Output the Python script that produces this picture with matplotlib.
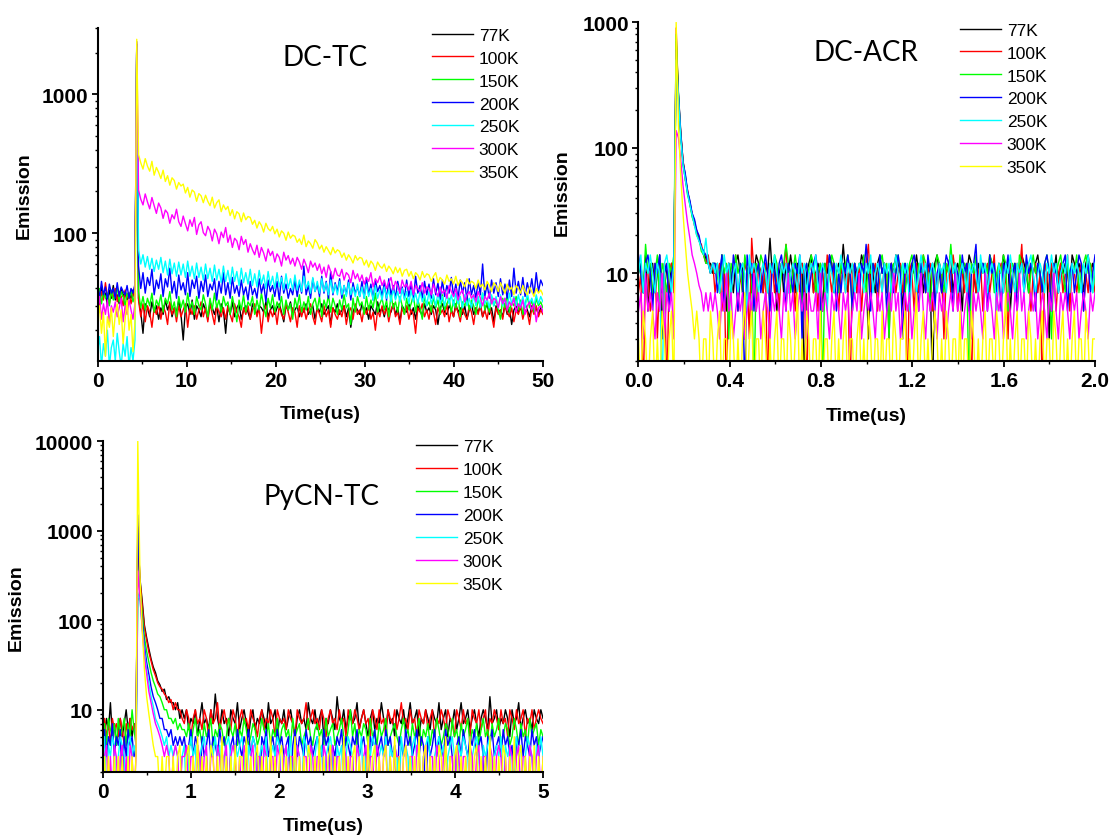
import numpy as np
import matplotlib
matplotlib.use("Agg")
import matplotlib.pyplot as plt
from matplotlib.ticker import MultipleLocator, LogLocator, FuncFormatter, NullFormatter

plt.rcParams["font.family"] = ["Liberation Sans", "DejaVu Sans"]
plt.rcParams["font.weight"] = "bold"

temps = ["77K", "100K", "150K", "200K", "250K", "300K", "350K"]
colors = ["#000000", "#ff0000", "#00ff00", "#0000ff", "#00ffff", "#ff00ff", "#ffff00"]

# ---------------- DC-TC (0-50 us): 20 pre-pulse points, peak, decay/noise ----------------
dctc_77k = [38, 32, 41, 35, 37, 30, 39, 34, 42, 33, 36, 31, 40, 35, 38, 32, 37, 34, 39, 33,
            2300,
            34, 27, 19, 31, 29, 25, 32, 27, 30, 24,
            29, 26, 33, 28, 31, 25, 29, 27, 33, 26,
            17, 29, 31, 26, 33, 24, 30, 28, 25, 31,
            28, 24, 32, 29, 26, 30, 23, 31, 28, 19,
            30, 26, 32, 25, 29, 31, 24, 28, 30, 27,
            24, 31, 28, 26, 30, 29, 27, 32, 25, 28,
            30, 26, 29, 31, 27, 23, 30, 28, 32, 26,
            28, 30, 25, 29, 27, 31, 26, 28, 30, 24,
            29, 27, 31, 26, 28, 30, 22, 29, 27, 31,
            26, 28, 30, 25, 29, 21, 27, 30, 28, 26,
            31, 27, 29, 24, 30, 28, 26, 32, 27, 29,
            25, 30, 28, 27, 31, 26, 29, 23, 30, 28,
            27, 31, 26, 29, 24, 30, 28, 25, 31, 27,
            29, 26, 30, 28, 22, 29, 31, 27, 26, 30,
            28, 25, 31, 27, 29, 26, 30, 24, 28, 31,
            26, 29, 27, 30, 25, 28, 31, 26, 29, 23,
            30, 27, 28, 25, 31, 26, 29, 22, 28, 30,
            27, 29, 26, 31, 28, 25, 30, 27, 29, 26,
            29, 27]
dctc_100k = [36, 29, 38, 33, 44, 35, 31, 37, 34, 40, 32, 38, 35, 30, 39, 34, 37, 31, 36, 42,
             2300,
             33, 25, 31, 23, 30, 27, 21, 29, 26, 31,
             24, 30, 27, 22, 32, 26, 29, 23, 30, 25,
             28, 31, 21, 29, 26, 30, 24, 28, 32, 25,
             29, 23, 31, 26, 22, 30, 27, 25, 29, 24,
             30, 26, 23, 31, 27, 25, 21, 29, 26, 30,
             24, 28, 31, 25, 29, 19, 27, 30, 23, 28,
             25, 29, 22, 30, 26, 24, 31, 27, 23, 29,
             27, 21, 30, 25, 29, 24, 28, 31, 25, 22,
             29, 26, 23, 30, 25, 28, 21, 29, 26, 24,
             28, 25, 30, 22, 27, 29, 24, 31, 26, 28,
             23, 29, 26, 30, 24, 27, 20, 28, 25, 30,
             26, 29, 23, 28, 31, 25, 27, 22, 29, 26,
             30, 24, 28, 26, 19, 29, 27, 31, 25, 28,
             24, 30, 27, 22, 29, 26, 28, 25, 31, 23,
             28, 25, 30, 27, 23, 29, 26, 24, 30, 27,
             22, 29, 26, 31, 25, 28, 24, 30, 26, 21,
             29, 26, 28, 24, 31, 27, 25, 29, 23, 28,
             26, 30, 24, 28, 27, 22, 29, 26, 30, 25,
             28, 26]
dctc_150k = [35, 40, 31, 38, 34, 37, 30, 39, 33, 36, 41, 32, 38, 35, 30, 37, 34, 39, 32, 36,
             2400,
             38, 29, 35, 28, 34, 30, 37, 27, 33, 30,
             36, 27, 34, 31, 38, 28, 32, 25, 35, 29,
             33, 27, 37, 29, 32, 26, 35, 30, 28, 36,
             31, 25, 34, 28, 37, 29, 33, 27, 35, 30,
             32, 26, 35, 29, 23, 33, 28, 36, 27, 32,
             30, 35, 26, 33, 28, 37, 30, 25, 34, 29,
             36, 27, 32, 29, 35, 26, 33, 28, 31, 24,
             34, 29, 36, 27, 32, 28, 35, 26, 31, 34,
             28, 35, 25, 33, 29, 36, 27, 34, 30, 26,
             33, 28, 36, 29, 31, 22, 34, 27, 35, 30,
             32, 26, 35, 28, 33, 29, 37, 27, 31, 34,
             28, 33, 25, 36, 29, 32, 27, 35, 30, 26,
             34, 28, 31, 36, 27, 33, 29, 24, 35, 30,
             32, 27, 35, 29, 33, 26, 36, 28, 31, 34,
             27, 33, 29, 36, 25, 32, 30, 35, 28, 33,
             30, 26, 34, 29, 37, 28, 32, 27, 35, 30,
             33, 28, 24, 34, 29, 36, 27, 32, 30, 35,
             28, 33, 26, 31, 35, 29, 33, 27, 34, 30,
             32, 29]
dctc_200k = [42, 34, 45, 36, 41, 33, 43, 37, 40, 34, 44, 35, 41, 38, 36, 42, 34, 40, 37, 43,
             2300,
             58, 40, 52, 37, 48, 42, 55, 36, 46, 40,
             51, 35, 47, 41, 56, 37, 45, 34, 50, 39,
             44, 36, 52, 35, 46, 40, 49, 34, 45, 38,
             50, 35, 43, 39, 47, 33, 45, 37, 52, 36,
             44, 34, 48, 37, 42, 35, 46, 36, 41, 33,
             45, 36, 40, 34, 47, 37, 43, 32, 46, 38,
             42, 35, 45, 33, 49, 37, 43, 34, 40, 36,
             46, 35, 44, 37, 58, 36, 42, 34, 47, 38,
             43, 35, 49, 37, 45, 34, 53, 36, 44, 38,
             47, 34, 42, 36, 46, 33, 44, 37, 41, 35,
             45, 34, 48, 36, 43, 33, 46, 38, 42, 35,
             44, 33, 47, 36, 42, 34, 45, 37, 41, 34,
             46, 35, 43, 33, 49, 37, 42, 34, 45, 36,
             43, 34, 47, 36, 44, 33, 46, 35, 42, 37,
             48, 35, 43, 34, 46, 37, 44, 33, 47, 36,
             42, 34, 45, 36, 60, 35, 43, 34, 46, 37,
             44, 35, 47, 36, 43, 34, 46, 35, 56, 37,
             45, 36, 48, 35, 44, 37, 47, 36, 52, 38,
             46, 42]
dctc_250k = [14, 18, 11, 16, 13, 20, 11, 15, 17, 12, 19, 14, 11, 16, 13, 18, 11, 15, 12, 17,
             2300,
             76, 60, 70, 57, 68, 55, 66, 53, 64, 55,
             67, 52, 63, 50, 65, 51, 61, 49, 62, 50,
             60, 48, 63, 49, 58, 47, 61, 48, 57, 46,
             60, 47, 56, 45, 59, 46, 55, 44, 58, 45,
             54, 43, 57, 45, 53, 42, 56, 44, 52, 43,
             55, 42, 51, 41, 54, 43, 50, 40, 53, 42,
             49, 40, 52, 41, 48, 39, 51, 40, 47, 39,
             50, 39, 46, 38, 49, 40, 45, 37, 48, 38,
             45, 37, 47, 38, 44, 36, 46, 37, 43, 36,
             45, 36, 42, 35, 44, 36, 41, 35, 43, 35,
             41, 34, 43, 35, 40, 33, 42, 34, 39, 33,
             41, 34, 39, 32, 40, 33, 38, 32, 40, 33,
             38, 31, 39, 32, 37, 31, 38, 32, 36, 30,
             38, 31, 36, 30, 37, 31, 35, 30, 37, 31,
             36, 30, 37, 31, 35, 29, 36, 30, 34, 29,
             36, 30, 35, 29, 37, 31, 34, 29, 36, 30,
             35, 29, 36, 30, 34, 29, 37, 31, 35, 30,
             36, 30, 35, 29, 37, 31, 34, 30, 36, 31,
             35, 32]
dctc_300k = [28, 35, 24, 31, 26, 33, 22, 30, 27, 32, 25, 29, 34, 23, 30, 26, 33, 28, 24, 31,
             2400,
             205, 176, 160, 192, 168, 150, 181, 158, 139, 165,
             152, 128, 147, 140, 118, 136, 127, 149, 121, 112,
             133, 117, 104, 125, 112, 130, 98, 115, 121, 101,
             96, 112, 104, 88, 107, 99, 84, 102, 93, 110,
             86, 97, 79, 92, 88, 76, 95, 83, 90, 73,
             84, 76, 70, 82, 67, 79, 72, 63, 77, 69,
             74, 62, 71, 67, 58, 73, 64, 69, 60, 66,
             58, 67, 62, 55, 65, 59, 52, 63, 57, 61,
             54, 60, 51, 57, 48, 59, 53, 47, 56, 50,
             49, 55, 46, 52, 50, 44, 54, 47, 51, 45,
             50, 43, 48, 45, 52, 41, 47, 44, 49, 42,
             46, 40, 44, 48, 39, 45, 42, 37, 46, 41,
             43, 39, 45, 36, 42, 40, 38, 44, 37, 41,
             40, 36, 43, 38, 35, 41, 37, 39, 34, 42,
             38, 35, 40, 33, 37, 39, 32, 36, 38, 34,
             36, 32, 38, 34, 30, 35, 33, 37, 31, 34,
             33, 29, 35, 31, 34, 28, 32, 30, 34, 27,
             31, 29, 33, 26, 30, 32, 28, 31, 23, 29,
             30, 27]
dctc_350k = [24, 30, 19, 27, 13, 25, 21, 29, 18, 26, 31, 22, 28, 16, 24, 33, 20, 26, 14, 23,
             2500,
             370, 322, 290, 345, 305, 280, 330, 262, 298, 275,
             248, 285, 236, 260, 222, 251, 240, 208, 232, 219,
             226, 195, 214, 182, 205, 198, 170, 193, 186, 166,
             188, 170, 158, 182, 152, 166, 174, 143, 160, 148,
             156, 134, 148, 127, 143, 138, 121, 140, 125, 132,
             130, 116, 124, 109, 121, 114, 102, 118, 108, 104,
             112, 99, 107, 94, 104, 100, 89, 102, 92, 97,
             95, 86, 91, 83, 97, 80, 88, 84, 78, 90,
             85, 77, 82, 73, 80, 75, 70, 79, 72, 76,
             74, 67, 72, 64, 70, 66, 61, 69, 64, 67,
             66, 59, 64, 57, 63, 60, 54, 62, 58, 56,
             60, 53, 58, 55, 51, 57, 52, 56, 49, 54,
             55, 49, 53, 47, 52, 50, 46, 53, 48, 51,
             50, 45, 49, 52, 44, 48, 46, 43, 50, 45,
             47, 43, 49, 42, 46, 44, 41, 47, 43, 45,
             44, 40, 46, 41, 43, 39, 45, 42, 38, 44,
             42, 38, 44, 40, 37, 43, 39, 41, 36, 42,
             40, 37, 42, 38, 36, 41, 38, 35, 40, 37,
             39, 36]

# ---------------- DC-ACR (0-2 us): 16 pre-pulse points, peak, decay/noise ----------------
dcacr_77k = [10, 12, 7, 14, 5, 10, 12, 7, 10, 14, 3, 12, 10, 7, 12, 10,
             700,
             270, 135, 78, 60, 44, 37, 29, 26, 21, 19, 16, 15, 13, 12, 12, 10,
             10, 12, 7, 14, 10, 5, 12, 10, 7, 12,
             14, 10, 12, 3, 10, 12, 7, 10, 14, 12,
             10, 7, 12, 10, 19, 10, 12, 5, 10, 12,
             7, 12, 10, 14, 10, 7, 12, 10, 12, 1,
             10, 12, 14, 7, 10, 12, 10, 5, 12, 10,
             14, 12, 7, 10, 12, 10, 17, 10, 7, 12,
             10, 12, 7, 10, 14, 12, 10, 3, 12, 10,
             7, 12, 14, 10, 12, 7, 10, 12, 10, 14,
             12, 10, 5, 12, 10, 7, 12, 10, 14, 10,
             12, 7, 10, 12, 10, 1, 12, 14, 10, 7,
             12, 10, 12, 14, 7, 10, 12, 10, 5, 12,
             10, 14, 12, 10, 7, 12, 10, 12, 10, 7,
             14, 12, 10, 7, 12, 10, 14, 10, 12, 5,
             10, 12, 7, 10, 14, 12, 10, 7, 12, 10,
             12, 14, 10, 7, 12, 10, 3, 12, 10, 14,
             7, 12, 10, 12, 10, 7, 14, 12, 10, 12,
             10, 7, 12, 14, 10, 12, 10]
dcacr_100k = [7, 10, 1, 12, 10, 5, 7, 12, 3, 10, 7, 12, 1, 10, 12, 7,
              900,
              250, 128, 80, 55, 46, 35, 30, 24, 22, 18, 17, 14, 12, 14, 10, 12,
              7, 10, 12, 5, 10, 1, 12, 7, 10, 14,
              5, 10, 7, 12, 10, 3, 19, 10, 5, 12,
              10, 7, 12, 1, 10, 12, 7, 10, 5, 12,
              10, 17, 7, 10, 12, 5, 10, 7, 12, 10,
              1, 10, 12, 7, 10, 5, 12, 10, 7, 14,
              10, 7, 12, 10, 5, 10, 12, 7, 10, 1,
              12, 10, 7, 12, 5, 10, 12, 17, 7, 10,
              12, 5, 10, 7, 12, 10, 3, 12, 10, 7,
              10, 12, 7, 10, 1, 12, 10, 5, 12, 7,
              10, 14, 7, 10, 12, 5, 10, 7, 12, 10,
              3, 10, 12, 7, 14, 10, 5, 12, 10, 7,
              12, 10, 1, 12, 7, 10, 12, 5, 10, 12,
              7, 10, 14, 5, 10, 12, 7, 10, 3, 12,
              10, 7, 12, 10, 17, 7, 10, 12, 5, 10,
              12, 7, 10, 1, 12, 10, 7, 12, 10, 5,
              10, 12, 7, 10, 14, 5, 12, 10, 7, 10,
              12, 5, 10, 7, 12, 10, 7]
dcacr_150k = [12, 10, 7, 17, 10, 12, 7, 10, 14, 5, 12, 10, 7, 12, 10, 14,
              800,
              260, 125, 72, 57, 42, 36, 28, 25, 20, 19, 15, 14, 12, 12, 10, 12,
              12, 10, 7, 14, 10, 12, 3, 12, 10, 14,
              10, 12, 7, 14, 10, 12, 10, 1, 12, 10,
              14, 12, 10, 7, 12, 10, 14, 12, 7, 10,
              12, 17, 12, 7, 10, 14, 10, 12, 5, 10,
              12, 10, 14, 12, 7, 10, 12, 1, 12, 7,
              10, 14, 12, 10, 7, 12, 10, 12, 14, 10,
              5, 12, 10, 12, 10, 14, 7, 12, 10, 12,
              10, 7, 12, 14, 10, 12, 3, 10, 12, 10,
              14, 10, 12, 7, 10, 12, 14, 10, 7, 12,
              10, 14, 12, 10, 5, 12, 10, 14, 12, 10,
              7, 12, 10, 17, 10, 12, 7, 14, 10, 12,
              10, 1, 12, 10, 14, 7, 12, 10, 12, 10,
              14, 12, 7, 10, 12, 10, 14, 12, 5, 10,
              12, 10, 7, 14, 12, 10, 12, 7, 10, 14,
              10, 12, 10, 7, 12, 14, 10, 3, 12, 10,
              12, 14, 10, 7, 12, 10, 12, 10, 14, 7,
              10, 12, 14, 10, 12, 7, 10]
dcacr_200k = [14, 10, 7, 12, 14, 10, 5, 12, 10, 14, 7, 10, 12, 5, 10, 12,
              600,
              265, 130, 76, 62, 45, 38, 30, 27, 22, 20, 16, 15, 14, 12, 10, 12,
              12, 7, 10, 14, 5, 10, 12, 7, 14, 10,
              5, 12, 10, 1, 14, 10, 12, 5, 10, 12,
              7, 10, 14, 10, 5, 12, 10, 7, 12, 14,
              10, 5, 12, 10, 7, 12, 10, 14, 3, 10,
              12, 7, 10, 12, 14, 10, 5, 12, 10, 7,
              14, 10, 12, 5, 10, 7, 12, 10, 14, 10,
              5, 12, 10, 7, 12, 10, 17, 10, 5, 12,
              10, 7, 14, 10, 12, 5, 10, 12, 7, 10,
              14, 10, 3, 12, 10, 7, 12, 14, 10, 5,
              12, 10, 7, 14, 10, 12, 5, 10, 12, 7,
              10, 14, 12, 10, 5, 12, 10, 7, 14, 10,
              12, 5, 10, 12, 17, 7, 10, 12, 10, 5,
              14, 10, 12, 7, 10, 5, 12, 10, 14, 7,
              10, 12, 5, 10, 12, 7, 14, 10, 12, 10,
              5, 12, 10, 7, 12, 14, 10, 5, 12, 10,
              7, 10, 12, 14, 5, 10, 12, 7, 10, 14,
              12, 5, 10, 12, 7, 10, 14]
dcacr_250k = [10, 14, 7, 12, 10, 14, 10, 7, 12, 10, 1, 12, 14, 10, 7, 12,
              500,
              255, 120, 74, 56, 43, 35, 29, 24, 20, 18, 16, 14, 19, 12, 10, 12,
              10, 12, 7, 10, 14, 10, 12, 7, 10, 12,
              7, 10, 12, 10, 5, 14, 10, 12, 10, 7,
              10, 12, 10, 7, 12, 10, 14, 10, 7, 12,
              10, 12, 7, 10, 12, 10, 7, 14, 10, 12,
              7, 10, 12, 10, 14, 7, 10, 12, 10, 5,
              12, 10, 7, 12, 10, 14, 10, 7, 12, 10,
              12, 7, 10, 12, 10, 7, 12, 10, 14, 7,
              10, 12, 10, 7, 12, 10, 12, 7, 10, 14,
              10, 7, 12, 10, 12, 5, 10, 12, 7, 10,
              14, 10, 12, 7, 10, 12, 10, 7, 12, 10,
              12, 7, 10, 14, 10, 12, 7, 10, 12, 10,
              7, 12, 10, 12, 10, 7, 14, 10, 12, 7,
              10, 12, 10, 5, 12, 10, 7, 12, 10, 14,
              10, 7, 12, 10, 12, 7, 10, 12, 14, 10,
              7, 10, 12, 10, 7, 12, 10, 14, 10, 12,
              7, 10, 12, 10, 14, 7, 12, 10, 12, 10,
              7, 12, 10, 14, 10, 7, 12]
dcacr_300k = [5, 7, 3, 10, 5, 7, 5, 3, 7, 5, 10, 3, 7, 5, 7, 3,
              137,
              120, 80, 50, 35, 25, 19, 14, 12, 10, 8, 7, 5, 7, 5, 7, 5,
              7, 5, 3, 7, 5, 10, 5, 7, 3, 5,
              7, 5, 7, 3, 5, 7, 5, 10, 5, 7,
              3, 5, 7, 5, 3, 7, 5, 7, 5, 3,
              7, 5, 10, 5, 7, 3, 5, 7, 5, 7,
              3, 7, 5, 5, 7, 3, 10, 5, 7, 5,
              3, 7, 5, 7, 5, 3, 7, 5, 7, 3,
              5, 7, 5, 10, 3, 5, 7, 5, 7, 5,
              3, 7, 5, 7, 3, 5, 7, 5, 10, 5,
              7, 3, 5, 7, 5, 7, 3, 5, 7, 5,
              10, 5, 3, 7, 5, 7, 5, 3, 7, 5,
              7, 3, 5, 7, 5, 10, 5, 7, 3, 5,
              7, 5, 3, 7, 5, 7, 5, 3, 10, 5,
              7, 5, 3, 7, 5, 7, 3, 5, 7, 5,
              3, 7, 5, 10, 5, 7, 3, 5, 7, 5,
              7, 3, 5, 7, 5, 3, 7, 5, 10, 5,
              3, 7, 5, 7, 5, 3, 7, 5, 7, 3,
              5, 7, 5, 3, 7, 5, 7]
dcacr_350k = [3, 1, 5, 3, 1, 3, 5, 1, 3, 1, 5, 3, 1, 3, 5, 1,
              1000,
              150, 60, 30, 17, 10, 7, 5, 3, 5, 3, 1, 3, 3, 1, 5, 3,
              1, 3, 5, 1, 3, 3, 1, 5, 3, 1,
              3, 1, 3, 7, 1, 3, 5, 1, 3, 3,
              1, 5, 3, 1, 3, 1, 3, 5, 1, 3,
              3, 1, 5, 3, 1, 3, 7, 1, 3, 1,
              5, 3, 1, 3, 3, 1, 5, 1, 3, 3,
              1, 3, 5, 1, 3, 1, 3, 5, 1, 3,
              3, 1, 3, 5, 1, 3, 1, 5, 3, 1,
              3, 3, 1, 5, 1, 3, 3, 1, 5, 3,
              1, 3, 3, 5, 1, 3, 1, 3, 7, 1,
              3, 5, 1, 3, 1, 3, 5, 3, 1, 3,
              1, 5, 3, 1, 3, 3, 1, 5, 1, 3,
              3, 1, 5, 3, 1, 3, 1, 3, 5, 1,
              3, 3, 1, 5, 3, 1, 3, 7, 1, 3,
              1, 3, 5, 1, 3, 3, 1, 5, 3, 1,
              3, 1, 3, 5, 1, 3, 3, 1, 5, 3,
              1, 3, 5, 1, 3, 1, 3, 5, 1, 3,
              3, 1, 5, 3, 1, 3, 3]

# ---------------- PyCN-TC (0-5 us): 18 pre-pulse points, peak, decay/noise ----------------
pycn_77k = [7, 5, 8, 6, 12, 5, 7, 4, 6, 8, 5, 7, 10, 6, 8, 5, 7, 6,
            900,
            290, 165, 88, 64, 48, 37, 30, 26, 21, 19, 16, 17, 13, 14, 12, 12, 10, 12, 8, 10,
            8, 10, 6, 8, 7, 10, 5, 8, 12, 7,
            8, 6, 10, 7, 15, 8, 6, 10, 7, 8,
            5, 10, 8, 7, 12, 6, 8, 10, 7, 5,
            8, 10, 6, 8, 7, 10, 8, 6, 12, 7,
            8, 10, 5, 8, 7, 10, 6, 8, 10, 7,
            5, 8, 10, 7, 8, 6, 12, 8, 7, 10,
            6, 8, 10, 5, 8, 7, 10, 8, 6, 14,
            8, 7, 10, 6, 8, 10, 7, 8, 12, 6,
            8, 10, 7, 5, 8, 10, 6, 8, 7, 12,
            8, 6, 10, 7, 8, 5, 10, 8, 7, 10,
            6, 8, 12, 7, 8, 10, 5, 8, 7, 10,
            8, 6, 10, 8, 7, 12, 6, 8, 10, 5,
            8, 7, 10, 6, 8, 12, 7, 8, 10, 6,
            8, 10, 7, 5, 8, 10, 8, 6, 14, 7,
            8, 10, 6, 8, 7, 10, 8, 5, 10, 7,
            8, 12, 6, 8, 10, 7, 8, 6, 10, 8,
            7, 10, 8]
pycn_100k = [6, 8, 5, 7, 4, 8, 6, 7, 5, 8, 6, 4, 7, 5, 8, 6, 7, 5,
             1100,
             270, 150, 82, 60, 44, 35, 28, 24, 20, 18, 17, 15, 14, 12, 13, 10, 12, 10, 10, 8,
             7, 10, 8, 5, 8, 10, 7, 8, 6, 10,
             8, 5, 10, 7, 8, 12, 6, 8, 10, 7,
             8, 6, 10, 8, 5, 8, 10, 7, 8, 6,
             10, 8, 7, 5, 8, 10, 6, 8, 7, 10,
             8, 5, 10, 8, 7, 8, 6, 10, 8, 7,
             5, 10, 8, 7, 8, 12, 6, 8, 10, 7,
             8, 6, 10, 8, 5, 8, 10, 7, 8, 6,
             10, 7, 8, 5, 10, 8, 7, 10, 8, 6,
             8, 10, 7, 8, 5, 10, 8, 6, 10, 7,
             8, 5, 10, 8, 7, 10, 6, 8, 12, 7,
             8, 6, 10, 7, 8, 5, 10, 8, 7, 10,
             6, 8, 10, 5, 8, 7, 10, 8, 6, 10,
             8, 7, 5, 10, 8, 6, 10, 7, 8, 5,
             10, 8, 7, 10, 6, 8, 10, 5, 8, 7,
             10, 8, 6, 10, 7, 8, 5, 10, 8, 6,
             10, 7, 8, 10, 5, 8, 7, 10, 6, 8,
             10, 8, 7]
pycn_150k = [5, 7, 4, 8, 6, 5, 7, 4, 8, 5, 6, 8, 4, 7, 5, 10, 6, 4,
             163,
             220, 120, 65, 45, 34, 26, 21, 18, 15, 14, 12, 10, 10, 8, 8, 7, 8, 6, 7, 6,
             6, 5, 7, 4, 6, 8, 5, 6, 4, 7,
             5, 6, 8, 4, 6, 5, 7, 6, 4, 5,
             8, 6, 5, 7, 4, 6, 5, 8, 6, 4,
             5, 7, 6, 4, 5, 8, 6, 5, 7, 4,
             6, 5, 8, 4, 6, 7, 5, 6, 4, 8,
             5, 6, 7, 4, 5, 6, 8, 5, 4, 6,
             7, 5, 6, 4, 8, 5, 6, 7, 4, 5,
             6, 8, 5, 4, 6, 10, 5, 7, 4, 6,
             5, 7, 6, 4, 8, 5, 6, 4, 7, 5,
             6, 8, 4, 5, 6, 7, 5, 4, 6, 8,
             5, 6, 4, 7, 5, 6, 8, 4, 6, 5,
             7, 4, 6, 5, 8, 6, 4, 5, 7, 6,
             4, 8, 5, 6, 4, 7, 5, 6, 8, 4,
             6, 5, 7, 4, 6, 8, 5, 6, 4, 7,
             5, 6, 8, 4, 5, 7, 6, 4, 5, 8,
             6, 4, 7, 5, 6, 4, 8, 5, 6, 7,
             4, 6, 5]
pycn_200k = [4, 6, 3, 5, 4, 7, 3, 5, 4, 6, 1, 5, 3, 6, 4, 5, 3, 4,
             1500,
             200, 100, 52, 34, 25, 18, 14, 12, 10, 8, 8, 6, 6, 5, 6, 4, 5, 4, 5, 4,
             5, 3, 4, 6, 3, 5, 4, 1, 5, 3,
             4, 6, 3, 5, 4, 3, 6, 4, 5, 3,
             1, 4, 5, 3, 6, 4, 3, 5, 4, 6,
             3, 5, 4, 3, 1, 5, 4, 6, 3, 4,
             5, 3, 6, 4, 5, 3, 4, 5, 1, 4,
             6, 3, 5, 4, 3, 6, 4, 5, 3, 4,
             5, 4, 3, 6, 4, 5, 1, 4, 3, 5,
             4, 6, 3, 5, 4, 3, 5, 4, 6, 3,
             4, 5, 3, 1, 5, 4, 6, 3, 4, 5,
             3, 6, 4, 5, 3, 4, 1, 5, 4, 3,
             6, 4, 5, 3, 4, 6, 3, 5, 4, 1,
             5, 3, 4, 6, 3, 5, 4, 3, 6, 4,
             5, 3, 1, 4, 5, 3, 6, 4, 3, 5,
             4, 6, 3, 4, 5, 3, 1, 5, 4, 6,
             3, 4, 5, 3, 6, 4, 5, 3, 4, 1,
             5, 4, 6, 3, 5, 4, 3, 6, 4, 5,
             3, 4, 5]
pycn_250k = [3, 5, 1, 4, 3, 5, 4, 1, 3, 5, 4, 3, 1, 4, 5, 3, 4, 3,
             194,
             170, 85, 45, 28, 20, 14, 11, 8, 7, 6, 5, 4, 5, 3, 4, 3, 4, 3, 1, 3,
             4, 1, 3, 5, 3, 4, 1, 3, 4, 5,
             3, 1, 4, 3, 5, 3, 4, 1, 3, 4,
             5, 3, 1, 4, 3, 4, 5, 3, 1, 4,
             3, 5, 4, 1, 3, 4, 3, 5, 1, 3,
             4, 3, 5, 4, 1, 3, 4, 3, 5, 1,
             3, 4, 3, 1, 5, 4, 3, 4, 1, 3,
             5, 3, 4, 1, 3, 4, 5, 3, 1, 4,
             3, 4, 1, 3, 5, 4, 3, 1, 4, 3,
             5, 1, 3, 4, 3, 5, 4, 1, 3, 4,
             3, 5, 1, 4, 3, 4, 3, 1, 5, 3,
             4, 3, 1, 4, 5, 3, 4, 1, 3, 4,
             5, 3, 1, 3, 4, 5, 3, 4, 1, 3,
             4, 5, 3, 1, 4, 3, 5, 4, 3, 1,
             3, 4, 5, 3, 1, 4, 3, 4, 5, 1,
             3, 4, 3, 5, 1, 4, 3, 4, 1, 3,
             5, 3, 4, 1, 3, 5, 4, 3, 1, 4,
             3, 5, 3]
pycn_300k = [1, 3, 4, 1, 3, 1, 4, 3, 1, 3, 4, 1, 3, 1, 4, 3, 1, 3,
             355,
             180, 80, 40, 25, 16, 12, 9, 7, 6, 5, 4, 3, 4, 3, 1, 3, 4, 3, 1, 3,
             3, 4, 1, 3, 3, 1, 4, 3, 1, 3,
             4, 1, 3, 3, 1, 4, 3, 1, 3, 4,
             1, 3, 4, 3, 1, 3, 1, 4, 3, 1,
             3, 4, 1, 3, 3, 1, 4, 3, 1, 3,
             3, 1, 4, 3, 1, 3, 4, 1, 3, 3,
             1, 4, 3, 1, 3, 3, 1, 4, 3, 1,
             3, 3, 1, 4, 3, 1, 3, 4, 1, 3,
             3, 1, 4, 3, 1, 3, 3, 1, 4, 3,
             1, 3, 4, 1, 3, 3, 1, 4, 3, 1,
             3, 4, 1, 3, 1, 4, 3, 3, 1, 3,
             4, 1, 3, 3, 1, 4, 3, 1, 3, 4,
             1, 3, 3, 1, 4, 3, 1, 3, 4, 1,
             3, 3, 1, 4, 3, 1, 3, 3, 1, 4,
             3, 1, 3, 4, 1, 3, 3, 1, 4, 3,
             1, 3, 4, 3, 1, 3, 1, 4, 3, 1,
             3, 4, 1, 3, 3, 1, 4, 3, 1, 3,
             4, 1, 3]
pycn_350k = [1, 3, 1, 3, 1, 1, 3, 1, 3, 1, 3, 1, 1, 3, 1, 3, 1, 3,
             10000,
             300, 80, 28, 14, 9, 6, 4, 3, 3, 1, 3, 1, 3, 3, 1, 3, 1, 3, 4, 1,
             1, 3, 4, 1, 3, 1, 5, 1, 3, 1,
             3, 1, 4, 3, 1, 3, 1, 5, 1, 3,
             1, 3, 1, 4, 1, 3, 3, 1, 5, 1,
             3, 1, 3, 4, 1, 3, 1, 3, 1, 5,
             1, 3, 1, 3, 4, 1, 3, 1, 3, 1,
             5, 1, 3, 1, 3, 1, 4, 3, 1, 3,
             1, 5, 1, 3, 1, 3, 4, 1, 3, 1,
             3, 1, 5, 1, 3, 1, 3, 4, 1, 3,
             1, 3, 1, 5, 1, 3, 4, 1, 3, 1,
             3, 4, 1, 3, 1, 5, 1, 3, 1, 3,
             4, 1, 3, 1, 3, 1, 5, 1, 3, 4,
             1, 3, 1, 3, 1, 4, 3, 1, 5, 1,
             3, 1, 3, 4, 1, 3, 1, 3, 1, 5,
             1, 3, 4, 1, 3, 1, 3, 1, 5, 1,
             3, 1, 3, 1, 4, 3, 1, 3, 1, 5,
             1, 3, 4, 1, 3, 1, 3, 1, 4, 1,
             3, 1, 3]


def sample_times(vals, n_pre, t_pre_end, t_peak, t_post, t_end):
    # detector sampling: uniform before the pulse, the pulse, uniform after
    n_post = len(vals) - n_pre - 1
    return np.concatenate([np.linspace(0, t_pre_end, n_pre), [t_peak],
                           np.linspace(t_post, t_end, n_post)])


def style_axes(ax, xmax, xmajor, xminor, ylo, yhi, xfmt):
    ax.set_yscale("log")
    ax.set_xlim(0, xmax)
    ax.set_ylim(ylo, yhi)
    for s in ["top", "right"]:
        ax.spines[s].set_visible(False)
    for s in ["left", "bottom"]:
        ax.spines[s].set_linewidth(1.5)
    ax.xaxis.set_major_locator(MultipleLocator(xmajor))
    ax.xaxis.set_minor_locator(MultipleLocator(xminor))
    ax.xaxis.set_major_formatter(FuncFormatter(xfmt))
    ax.yaxis.set_major_locator(LogLocator(base=10))
    ax.yaxis.set_minor_locator(LogLocator(base=10, subs=np.arange(2, 10)))
    ax.yaxis.set_minor_formatter(NullFormatter())
    ax.yaxis.set_major_formatter(FuncFormatter(lambda v, p: "%d" % v))
    ax.tick_params(which="major", direction="out", length=4, width=1.3,
                   labelsize=15, pad=3)
    ax.tick_params(which="minor", direction="out", length=2.5, width=1.0)


legend_font = {"family": "Liberation Sans", "weight": "normal", "size": 12.5}

fig = plt.figure(figsize=(11.11, 8.37), dpi=100)

panels = [
    # axes rect, series, sampling, x style, y range, name + position, legend anchor, label coords
    ([0.0878, 0.5675, 0.4009, 0.3975],
     [dctc_77k, dctc_100k, dctc_150k, dctc_200k, dctc_250k, dctc_300k, dctc_350k],
     (20, 4.2, 4.4, 4.6, 50.0), (50, 10, 5, lambda v, p: "%d" % v), (12, 3000),
     ("DC-TC", 0.511, 0.914), (0.3888, 0.966), (-0.146, -0.132)),
    ([0.5747, 0.5675, 0.4109, 0.4047],
     [dcacr_77k, dcacr_100k, dcacr_150k, dcacr_200k, dcacr_250k, dcacr_300k, dcacr_350k],
     (16, 0.155, 0.165, 0.175, 2.0), (2.0, 0.4, 0.2, lambda v, p: "%.1f" % v), (2, 1000),
     ("DC-ACR", 0.498, 0.911), (0.864, 0.972), (-0.149, -0.136)),
    ([0.0923, 0.0761, 0.3965, 0.3955],
     [pycn_77k, pycn_100k, pycn_150k, pycn_200k, pycn_250k, pycn_300k, pycn_350k],
     (18, 0.38, 0.40, 0.425, 5.0), (5, 1, 0.5, lambda v, p: "%d" % v), (2, 10000),
     ("PyCN-TC", 0.496, 0.836), (0.3744, 0.474), (-0.177, -0.135)),
]

for rect, series, samp, xs, yr, name, leg_xy, lab in panels:
    ax = fig.add_axes(rect)
    handles = []
    for vals, c in zip(series, colors):
        t = sample_times(vals, *samp)
        ln, = ax.plot(t, vals, color=c, lw=1.0)
        handles.append(ln)
    style_axes(ax, xs[0], xs[1], xs[2], yr[0], yr[1], xs[3])
    ax.set_xlabel("Time(us)", fontsize=14, fontweight="bold")
    ax.set_ylabel("Emission", fontsize=14, fontweight="bold")
    ax.yaxis.set_label_coords(lab[0], 0.5)
    ax.xaxis.set_label_coords(0.5, lab[1])
    ax.text(name[1], name[2], name[0], transform=ax.transAxes, ha="center",
            va="center", fontsize=20, family="Lato", fontweight="normal")
    ax.legend(handles, temps, loc="upper left", bbox_to_anchor=leg_xy,
              bbox_transform=fig.transFigure, frameon=False, borderpad=0,
              borderaxespad=0, handlelength=2.35, handletextpad=0.35,
              labelspacing=0.45, prop=legend_font)

fig.savefig("out.png", dpi=100)
